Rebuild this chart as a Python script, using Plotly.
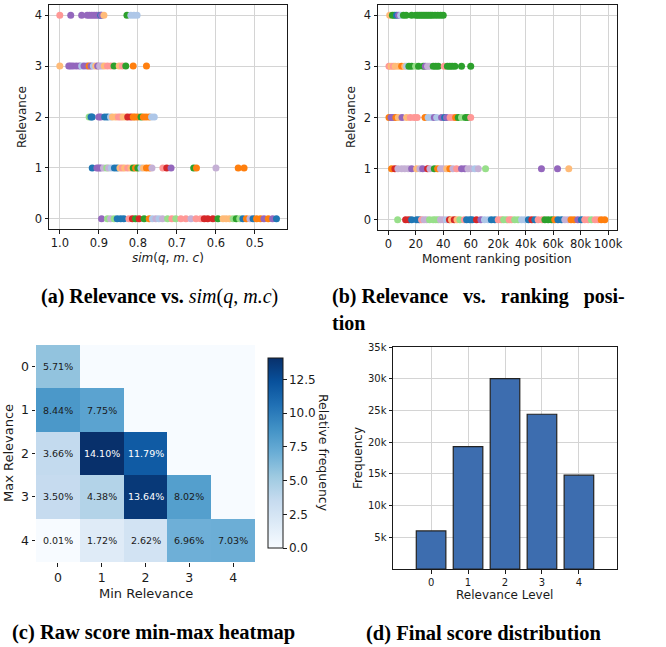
import plotly.graph_objects as go

W, H = 666, 647

# ---------------- data ----------------
# query colours (tab20 first ten)
QUERY_COLORS = ["#1f77b4", "#aec7e8", "#ff7f0e", "#ffbb78", "#2ca02c",
                "#98df8a", "#d62728", "#ff9896", "#9467bd", "#c5b0d5"]

# (a) similarity per relevance level, with query id
sim_rel4 = [1.0, 0.972, 0.944, 0.930, 0.924, 0.918, 0.912, 0.906, 0.900, 0.895, 0.893, 0.887, 0.828, 0.818, 0.810, 0.802]
sim_rel4_q = [7, 8, 8, 8, 8, 8, 8, 8, 8, 0, 8, 3, 4, 1, 1, 1]
sim_rel3 = [1.0, 0.977, 0.972, 0.966, 0.958, 0.950, 0.944, 0.938, 0.930, 0.925, 0.920, 0.914, 0.908, 0.903, 0.898,
            0.892, 0.886, 0.878, 0.869, 0.861, 0.848, 0.840, 0.831, 0.812, 0.778]
sim_rel3_q = [3, 8, 8, 8, 8, 8, 1, 8, 8, 2, 8, 1, 3, 8, 9, 9, 3, 7, 7, 4, 3, 7, 4, 2, 2]
sim_rel2 = [0.925, 0.920, 0.917, 0.900, 0.895, 0.885, 0.878, 0.870, 0.865, 0.857, 0.850, 0.844, 0.838, 0.831, 0.826,
            0.818, 0.812, 0.807, 0.800, 0.792, 0.786, 0.779, 0.771, 0.765, 0.758]
sim_rel2_q = [5, 0, 0, 8, 8, 0, 0, 1, 3, 3, 7, 7, 3, 3, 6, 6, 2, 2, 2, 4, 2, 2, 2, 1, 1]
sim_rel1 = [0.917, 0.905, 0.900, 0.895, 0.888, 0.880, 0.875, 0.868, 0.860, 0.853, 0.846, 0.840, 0.834, 0.826, 0.818,
            0.812, 0.806, 0.800, 0.792, 0.786, 0.778, 0.770, 0.764, 0.736, 0.726, 0.715, 0.657, 0.650, 0.600, 0.543, 0.528]
sim_rel1_q = [0, 8, 8, 8, 9, 5, 9, 1, 0, 0, 3, 7, 3, 7, 3, 4, 2, 4, 1, 3, 2, 2, 9, 7, 6, 8, 4, 2, 9, 2, 2]
sim_rel0 = [0.893, 0.878, 0.870, 0.861, 0.853, 0.844, 0.836, 0.823, 0.814, 0.806, 0.797, 0.784, 0.771, 0.763, 0.754,
            0.746, 0.737, 0.724, 0.713, 0.703, 0.690, 0.677, 0.664, 0.651, 0.639, 0.630, 0.621, 0.608, 0.595, 0.582,
            0.574, 0.565, 0.556, 0.548, 0.539, 0.531, 0.522, 0.513, 0.505, 0.496, 0.486, 0.477, 0.466, 0.455, 0.445]
sim_rel0_q = [8, 5, 9, 5, 0, 0, 0, 7, 6, 4, 6, 4, 2, 1, 9, 1, 9, 5, 7, 5, 7, 7, 9, 7, 7, 6, 6, 6, 4, 3,
              3, 3, 5, 4, 5, 0, 2, 9, 0, 2, 2, 8, 2, 8, 0]

# (b) moment ranking position per relevance level, with query id
rank_rel4 = [1, 3, 4.5, 6, 7.5, 9, 11, 13, 17, 20, 21.5, 23, 24.5, 26, 27.5, 29, 30.5, 32, 34, 36, 38, 40]
rank_rel4_q = [3, 4, 4, 0, 8, 1, 4, 4, 4, 4, 4, 4, 4, 4, 4, 4, 4, 4, 4, 4, 4, 4]
rank_rel3 = [0.5, 2, 3.6, 5, 7.3, 9.7, 12, 13.3, 15, 17, 19.9, 22, 25.5, 27, 28.6, 30, 32.7, 34.5, 36.4, 40.7,
             43, 44.8, 46.5, 48.5, 53.3, 60]
rank_rel3_q = [7, 3, 7, 3, 3, 2, 3, 1, 4, 4, 5, 4, 4, 8, 9, 9, 4, 4, 4, 7, 4, 4, 4, 4, 4, 4]
rank_rel2 = [0.5, 2, 3.6, 5.5, 7.3, 10, 13.3, 16, 18.9, 21, 26.7, 29, 31.5, 33.5, 35.2, 38.8, 41, 42.4, 45, 47.3,
             49, 50.9, 53.3, 56.2, 58, 60]
rank_rel2_q = [2, 8, 8, 2, 3, 8, 3, 7, 7, 7, 2, 1, 1, 8, 1, 8, 0, 8, 7, 7, 2, 4, 5, 4, 4, 7]
rank_rel1 = [2.4, 4.8, 7, 9.7, 12, 14.5, 17, 20.6, 23, 25, 28.6, 30.3, 33.5, 35.9, 38, 40, 42.5, 44.8, 47, 49.7,
             53.3, 55.8, 58, 60, 3000, 5500, 10800, 51500, 63200, 71400]
rank_rel1_q = [2, 6, 9, 9, 9, 9, 8, 3, 9, 8, 6, 9, 4, 2, 9, 9, 3, 2, 9, 7, 8, 8, 9, 9, 1, 9, 5, 8, 8, 3]
rank_rel0 = [6.8, 12.6, 15, 17, 20.6, 22.5, 24.2, 26, 27.9, 30, 32.7, 34.5, 36.4, 38, 40, 42.4, 44.5, 46, 48, 50,
             52.1, 55.3, 57, 59.4, 1000, 4200, 7400, 10000, 12700, 15000, 17600, 20000, 22400, 24000, 26100,
             28000, 29700, 32000, 34500, 37000, 39400, 42000, 44500, 46700, 49100, 52000, 54000, 56400, 59000,
             61200, 63500, 66100, 68500, 70900, 73000, 75300, 78000, 80600, 83000, 85500, 87900, 90500, 92700,
             95000, 97600]
rank_rel0_q = [5, 6, 6, 0, 0, 0, 7, 9, 9, 5, 5, 5, 5, 9, 9, 1, 6, 3, 6, 3, 5, 7, 0, 0, 0, 6, 8, 1, 1, 0, 0, 7,
               7, 5, 5, 7, 7, 5, 5, 1, 1, 0, 6, 0, 7, 7, 4, 4, 4, 2, 0, 0, 9, 9, 2, 2, 8, 0, 7, 7, 5, 7, 7, 2, 2]
rank_ticks = [0, 20, 40, 60, 20000, 40000, 60000, 80000, 100000]
rank_tick_labels = ["0", "20", "40", "60", "20k", "40k", "60k", "80k", "100k"]

# (c) raw score min-max heatmap (relative frequency, %)
min_levels = [0, 1, 2, 3, 4]
max_levels = [0, 1, 2, 3, 4]
heat_row0 = [5.71, 0, 0, 0, 0]
heat_row1 = [8.44, 7.75, 0, 0, 0]
heat_row2 = [3.66, 14.10, 11.79, 0, 0]
heat_row3 = [3.50, 4.38, 13.64, 8.02, 0]
heat_row4 = [0.01, 1.72, 2.62, 6.96, 7.03]

# (d) final score distribution
final_levels = [0, 1, 2, 3, 4]
final_freq = [6000, 19300, 30000, 24400, 14800]
freq_ticks = [5000, 10000, 15000, 20000, 25000, 30000, 35000]
freq_tick_labels = ["5k", "10k", "15k", "20k", "25k", "30k", "35k"]


# ---------------- helpers ----------------
def px_x(p):
    return p / W


def px_y(p):
    return 1 - p / H


def rank_to_axis(r):
    # broken scale: linear up to 60, then thousands
    return r if r <= 60 else 60 + r / 1000.0


FONT = "DejaVu Sans"
SERIF = "Liberation Serif"
INK = "#1a1a1a"
GRID = "#d4d4d4"
MSIZE = 7

fig = go.Figure()

# (a) scatter
for xs, qs, lvl in [(sim_rel4, sim_rel4_q, 4), (sim_rel3, sim_rel3_q, 3), (sim_rel2, sim_rel2_q, 2),
                    (sim_rel1, sim_rel1_q, 1), (sim_rel0, sim_rel0_q, 0)]:
    fig.add_trace(go.Scatter(x=xs, y=[lvl] * len(xs), mode="markers",
                             marker=dict(size=MSIZE, color=[QUERY_COLORS[q] for q in qs], line=dict(width=0)),
                             xaxis="x", yaxis="y", showlegend=False))

# (b) scatter
for xs, qs, lvl in [(rank_rel4, rank_rel4_q, 4), (rank_rel3, rank_rel3_q, 3), (rank_rel2, rank_rel2_q, 2),
                    (rank_rel1, rank_rel1_q, 1), (rank_rel0, rank_rel0_q, 0)]:
    fig.add_trace(go.Scatter(x=[rank_to_axis(v) for v in xs], y=[lvl] * len(xs), mode="markers",
                             marker=dict(size=MSIZE, color=[QUERY_COLORS[q] for q in qs], line=dict(width=0)),
                             xaxis="x2", yaxis="y2", showlegend=False))

# (c) heatmap
heat = [heat_row0, heat_row1, heat_row2, heat_row3, heat_row4]
blues = [[0, "#f7fbff"], [0.125, "#deebf7"], [0.25, "#c6dbef"], [0.375, "#9ecae1"], [0.5, "#6baed6"],
         [0.625, "#4292c6"], [0.75, "#2171b5"], [0.875, "#08519c"], [1, "#08306b"]]
zmax = max(max(r) for r in heat)
fig.add_trace(go.Heatmap(
    x=min_levels, y=max_levels, z=heat, zmin=0, zmax=zmax, colorscale=blues, xaxis="x3", yaxis="y3",
    hoverinfo="skip",
    colorbar=dict(x=px_x(268), xanchor="left", xref="paper", y=px_y(453), yanchor="middle", yref="paper",
                  len=190, lenmode="pixels", thickness=15, thicknessmode="pixels",
                  outlinecolor=INK, outlinewidth=1, ticks="outside", ticklen=3.5, tickcolor=INK,
                  tickvals=[0, 2.5, 5, 7.5, 10, 12.5], ticktext=["0.0", "2.5", "5.0", "7.5", "10.0", "12.5"],
                  tickfont=dict(family=FONT, size=12, color=INK), xpad=0, ypad=0)))

# (d) bars
fig.add_trace(go.Bar(x=final_levels, y=final_freq, width=0.8, xaxis="x4", yaxis="y4", showlegend=False,
                     marker=dict(color="#3d6daf", line=dict(color="#222222", width=1.2))))

axis_common = dict(showline=True, linecolor=INK, linewidth=1, mirror=True, ticks="outside", ticklen=3.5,
                   tickcolor=INK, tickwidth=1, showgrid=True, gridcolor=GRID, gridwidth=1.3, zeroline=False,
                   automargin=False, tickangle=0,
                   tickfont=dict(family=FONT, size=11.5, color=INK))
heat_axis = dict(showgrid=False, zeroline=False, showline=False, ticks="outside", ticklen=3.5, tickcolor=INK,
                 automargin=False, tickangle=0, tickfont=dict(family=FONT, size=12.5, color=INK))

fig.update_layout(
    width=W, height=H, margin=dict(l=0, r=0, t=0, b=0, pad=0, autoexpand=False),
    paper_bgcolor="white", plot_bgcolor="white",
    font=dict(family=FONT, color=INK),
    xaxis=dict(axis_common, domain=[px_x(49), px_x(287)], range=[1.0277, 0.418], anchor="y",
               tickvals=[1.0, 0.9, 0.8, 0.7, 0.6, 0.5], ticktext=["1.0", "0.9", "0.8", "0.7", "0.6", "0.5"]),
    yaxis=dict(axis_common, domain=[px_y(229), px_y(5)], range=[-0.2, 4.2], anchor="x", tickvals=[0, 1, 2, 3, 4]),
    xaxis2=dict(axis_common, domain=[px_x(378), px_x(617)], range=[-7.5, 166.5], anchor="y2",
                tickvals=[rank_to_axis(v) for v in rank_ticks], ticktext=rank_tick_labels),
    yaxis2=dict(axis_common, domain=[px_y(230), px_y(5)], range=[-0.2, 4.2], anchor="x2", tickvals=[0, 1, 2, 3, 4]),
    xaxis3=dict(heat_axis, domain=[px_x(36), px_x(255)], range=[-0.5, 4.5], anchor="y3", tickvals=min_levels),
    yaxis3=dict(heat_axis, domain=[px_y(562), px_y(345)], range=[4.5, -0.5], anchor="x3", tickvals=max_levels),
    xaxis4=dict(axis_common, domain=[px_x(393), px_x(617)], range=[-1.03, 5.03], anchor="y4",
                tickvals=final_levels, tickfont=dict(family=FONT, size=10, color=INK)),
    yaxis4=dict(axis_common, domain=[px_y(569), px_y(347)], range=[0, 35000], anchor="x4",
                tickvals=freq_ticks, ticktext=freq_tick_labels, tickfont=dict(family=FONT, size=10, color=INK)),
)

ann = []


def label(text, x, y, size, angle=0, family=FONT, xanchor="center", color=INK):
    ann.append(dict(text=text, x=px_x(x), y=px_y(y), xref="paper", yref="paper", showarrow=False,
                    xanchor=xanchor, yanchor="middle", textangle=angle,
                    font=dict(family=family, size=size, color=color)))


# axis titles
label("<i>sim</i>(<i>q</i>, <i>m</i>. <i>c</i>)", 168, 258, 12)
label("Relevance", 22, 117, 12, angle=-90)
label("Moment ranking position", 497.5, 259, 12)
label("Relevance", 351, 117, 12, angle=-90)
label("Min Relevance", 145.5, 593, 13)
label("Max Relevance", 8, 453, 13, angle=-90)
label("Relative frequency", 324, 453, 12.5, angle=90)
label("Relevance Level", 505, 595, 12)
label("Frequency", 358, 458, 12, angle=-90)

# heatmap cell labels
for i, row in enumerate(heat):
    for j, v in enumerate(row):
        if j <= i:
            ann.append(dict(text=f"{v:.2f}%", x=min_levels[j], y=max_levels[i], xref="x3", yref="y3",
                            showarrow=False, font=dict(family=FONT, size=9.5,
                                                       color="white" if v > 10 else INK)))

# captions
label("<b>(a) Relevance vs. </b><i>sim</i>(<i>q</i>, <i>m.c</i>)", 159, 297, 20, family=SERIF, color="black")
label("<b>(b) Relevance   vs.   ranking   posi-</b>", 330, 297, 20, family=SERIF, xanchor="left", color="black")
label("<b>tion</b>", 330, 323, 20, family=SERIF, xanchor="left", color="black")
label("<b>(c) Raw score min-max heatmap</b>", 153.5, 632, 20.5, family=SERIF, color="black")
label("<b>(d) Final score distribution</b>", 483.5, 633, 20.5, family=SERIF, color="black")

fig.update_layout(annotations=ann)
fig.write_html("out.html", config={"displayModeBar": False},
               post_script="document.body.style.margin='0px';document.body.style.overflow='hidden';")
